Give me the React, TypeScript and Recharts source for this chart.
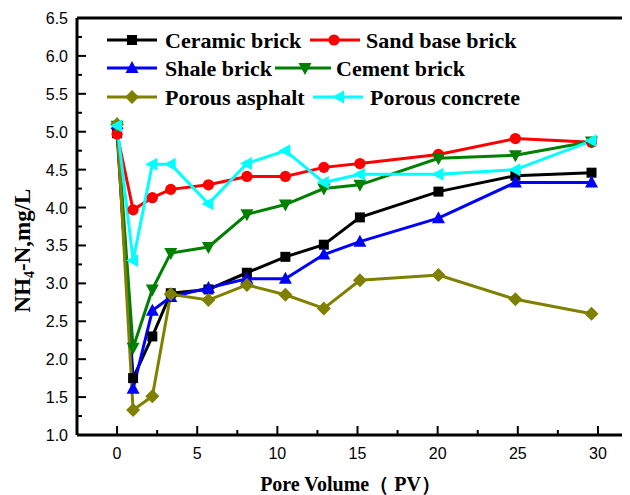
import React from 'react';
import { LineChart, Line, XAxis, YAxis, ReferenceLine, Legend } from 'recharts';

// Pore volume (PV) sampling points
const pv = [0, 1, 2.2, 3.35, 5.7, 8.1, 10.5, 12.9, 15.15, 20.05, 24.85, 29.6];

// NH4-N concentration (mg/L) per material
const ceramicBrick = [4.98, 1.75, 2.3, 2.87, 2.92, 3.14, 3.35, 3.51, 3.87, 4.21, 4.42, 4.46];
const sandBaseBrick = [4.97, 3.97, 4.13, 4.24, 4.3, 4.41, 4.41, 4.53, 4.58, 4.7, 4.91, 4.86];
const shaleBrick = [5.1, 1.61, 2.64, 2.82, 2.94, 3.06, 3.06, 3.38, 3.55, 3.86, 4.33, 4.33];
const cementBrick = [5.08, 2.15, 2.92, 3.4, 3.48, 3.91, 4.04, 4.25, 4.3, 4.65, 4.69, 4.87];
const porousAsphalt = [5.1, 1.33, 1.51, 2.855, 2.78, 2.98, 2.85, 2.67, 3.04, 3.11, 2.79, 2.6];
const porousConcrete = [5.08, 3.3, 4.57, 4.57, 4.05, 4.58, 4.75, 4.33, 4.44, 4.44, 4.5, 4.88];

// Axis ticks
const xTicks = [0, 2.5, 5, 7.5, 10, 12.5, 15, 17.5, 20, 22.5, 25, 27.5, 30];
const yTicks = [1.0, 1.25, 1.5, 1.75, 2.0, 2.25, 2.5, 2.75, 3.0, 3.25, 3.5, 3.75, 4.0, 4.25, 4.5, 4.75, 5.0, 5.25, 5.5, 5.75, 6.0, 6.25, 6.5];

const seriesNames = ['Ceramic brick', 'Sand base brick', 'Shale brick', 'Cement brick', 'Porous asphalt', 'Porous concrete'];
const seriesKeys = ['ceramic', 'sand', 'shale', 'cement', 'asphalt', 'concrete'];
const seriesValues = [ceramicBrick, sandBaseBrick, shaleBrick, cementBrick, porousAsphalt, porousConcrete];
const seriesColors = ['#000000', '#ff0000', '#0000ff', '#008000', '#808000', '#00ffff'];
const seriesShapes = ['square', 'circle', 'up', 'down', 'diamond', 'left'];

const data = pv.map((x, i) => {
  const row: Record<string, number> = { pv: x };
  seriesKeys.forEach((k, j) => {
    row[k] = seriesValues[j][i];
  });
  return row;
});

const SERIF = '"Liberation Serif", "Times New Roman", serif';
const SANS = '"Liberation Sans", Arial, sans-serif';

function Marker({ cx, cy, shape, color }: { cx: number; cy: number; shape: string; color: string }) {
  if (cx == null || cy == null) return null;
  switch (shape) {
    case 'square':
      return <rect x={cx - 5} y={cy - 5} width={10} height={10} fill={color} />;
    case 'circle':
      return <circle cx={cx} cy={cy} r={5.6} fill={color} />;
    case 'up':
      return <polygon points={`${cx},${cy - 7} ${cx + 6.5},${cy + 5} ${cx - 6.5},${cy + 5}`} fill={color} />;
    case 'down':
      return <polygon points={`${cx - 6.5},${cy - 5} ${cx + 6.5},${cy - 5} ${cx},${cy + 7}`} fill={color} />;
    case 'diamond':
      return <polygon points={`${cx},${cy - 7} ${cx + 7},${cy} ${cx},${cy + 7} ${cx - 7},${cy}`} fill={color} />;
    case 'left':
      return <polygon points={`${cx - 7},${cy} ${cx + 5},${cy - 6.5} ${cx + 5},${cy + 6.5}`} fill={color} />;
    default:
      return null;
  }
}

const XTick = (props: any) => {
  const { x, y, payload } = props;
  const v = payload.value;
  const major = v % 5 === 0;
  return (
    <g>
      <line x1={x} y1={y} x2={x} y2={y - (major ? 9 : 5)} stroke="#000" strokeWidth={2} />
      {major && (
        <text x={x} y={y + 24} textAnchor="middle" fontFamily={SANS} fontSize={16} fill="#000">
          {v}
        </text>
      )}
    </g>
  );
};

const YTick = (props: any) => {
  const { x, y, payload } = props;
  const v = payload.value;
  const major = Math.abs(v * 2 - Math.round(v * 2)) < 1e-6;
  return (
    <g>
      <line x1={x} y1={y} x2={x + (major ? 9 : 5)} y2={y} stroke="#000" strokeWidth={2} />
      {major && (
        <text x={x - 9} y={y + 6} textAnchor="end" fontFamily={SANS} fontSize={16} fill="#000">
          {v.toFixed(1)}
        </text>
      )}
    </g>
  );
};

const XLabel = (props: any) => {
  const { viewBox } = props;
  const cx = viewBox.x + viewBox.width / 2 - 3;
  const by = viewBox.y + viewBox.height - 4;
  return (
    <text x={cx} y={by} textAnchor="middle" fontFamily={SERIF} fontWeight="bold" fontSize={20} fill="#000">
      Pore Volume（ PV）
    </text>
  );
};

const YLabel = (props: any) => {
  const { viewBox } = props;
  const cx = viewBox.x + 22;
  const cy = viewBox.y + viewBox.height / 2 + 24;
  return (
    <text
      x={cx}
      y={cy}
      transform={`rotate(-90 ${cx} ${cy})`}
      textAnchor="middle"
      dominantBaseline="central"
      fontFamily={SERIF}
      fontWeight="bold"
      fontSize={23}
      fill="#000"
    >
      NH
      <tspan fontSize={14} dy={7}>4</tspan>
      <tspan dy={-7}>-N,mg/L</tspan>
    </text>
  );
};

// legend layout: [lineStart, lineEnd, markerX, textX, rowY]
const legendLayout = [
  [107, 157, 132, 165, 40],
  [310, 360, 334, 366, 40],
  [107, 157, 132, 165, 68],
  [275, 331, 305, 336, 68],
  [107, 157, 132, 165, 97],
  [313, 363, 339, 370, 97],
];

const LegendContent = () => (
  <svg width={630} height={120} style={{ display: 'block' }}>
    {seriesNames.map((name, i) => {
      const [x1, x2, mx, tx, ry] = legendLayout[i];
      return (
        <g key={name}>
          <line x1={x1} y1={ry} x2={x2} y2={ry} stroke={seriesColors[i]} strokeWidth={3} />
          <Marker cx={mx} cy={ry} shape={seriesShapes[i]} color={seriesColors[i]} />
          <text x={tx} y={ry + 8} fontFamily={SERIF} fontWeight="bold" fontSize={22} fill="#000">
            {name}
          </text>
        </g>
      );
    })}
  </svg>
);

export default function App() {
  return (
    <div style={{ margin: '-8px -8px 0 -8px', width: 630, height: 495, position: 'relative', background: '#fff' }}>
      <LineChart width={630} height={495} data={data} margin={{ top: 18, right: 0, bottom: 0, left: 0 }}>
        <XAxis
          dataKey="pv"
          type="number"
          domain={[-2.5, 32]}
          allowDataOverflow
          ticks={xTicks}
          interval={0}
          height={60}
          tickSize={0}
          tickMargin={0}
          tickLine={false}
          tick={XTick}
          axisLine={{ stroke: '#000', strokeWidth: 3 }}
          label={<XLabel />}
        />
        <YAxis
          type="number"
          domain={[1, 6.5]}
          ticks={yTicks}
          interval={0}
          width={77}
          tickSize={0}
          tickMargin={0}
          tickLine={false}
          tick={YTick}
          axisLine={{ stroke: '#000', strokeWidth: 3 }}
          label={<YLabel />}
        />
        <ReferenceLine y={6.5} stroke="#000" strokeWidth={3} />
        <Legend
          layout="horizontal"
          verticalAlign="middle"
          align="center"
          content={<LegendContent />}
          wrapperStyle={{ position: 'absolute', left: 0, top: 0, width: 630, height: 120 }}
        />
        {seriesKeys.map((k, i) => (
          <Line
            key={k}
            type="linear"
            dataKey={k}
            name={seriesNames[i]}
            stroke={seriesColors[i]}
            strokeWidth={3}
            isAnimationActive={false}
            dot={(p: any) => (
              <Marker key={`${k}-${p.index}`} cx={p.cx} cy={p.cy} shape={seriesShapes[i]} color={seriesColors[i]} />
            )}
            activeDot={false}
          />
        ))}
      </LineChart>
    </div>
  );
}
